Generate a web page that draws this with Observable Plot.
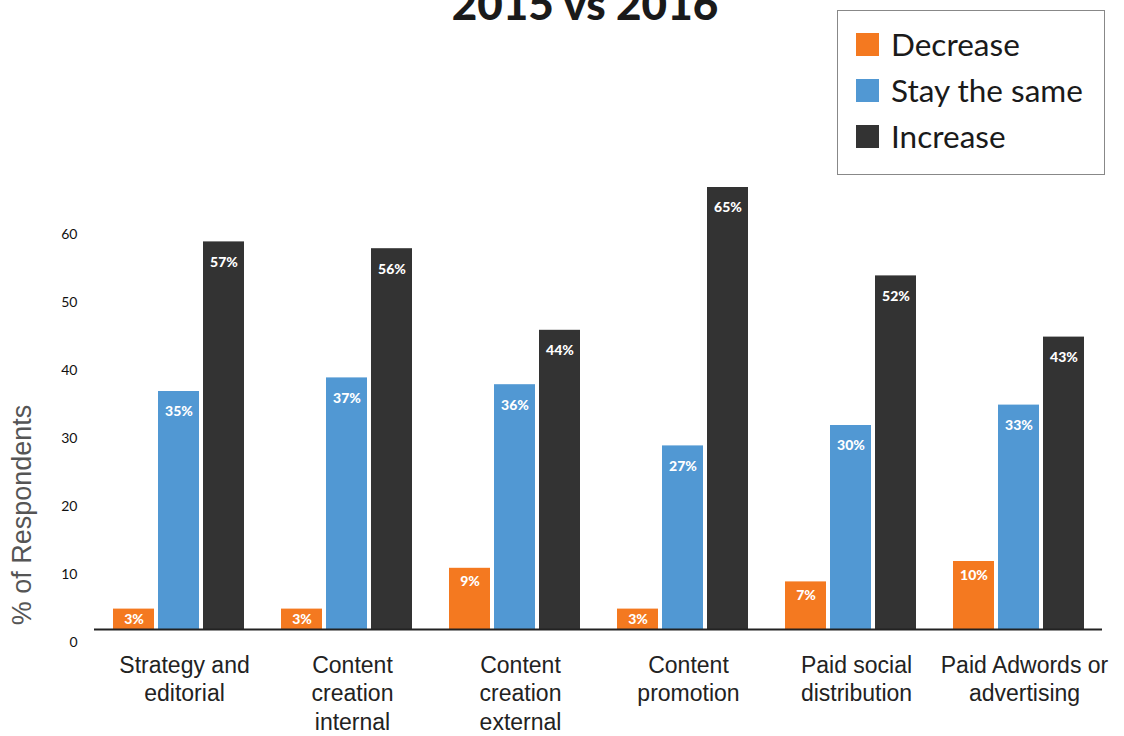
<!DOCTYPE html>
<html>
<head>
<meta charset="utf-8">
<script src="https://cdn.jsdelivr.net/npm/d3@7"></script>
<script src="https://cdn.jsdelivr.net/npm/@observablehq/plot@0.6"></script>
<style>
  html, body { margin: 0; padding: 0; background: #fff; }
  #wrap { position: relative; width: 1124px; height: 736px; overflow: hidden; }
  #title { position: absolute; left: 0; width: 1170px; top: -19px; text-align: center;
           font-family: Lato, sans-serif; font-weight: 900; font-size: 44px; line-height: 1; color: #1a1a1a; }
  #legend { position: absolute; left: 837px; top: 10px; width: 268px; height: 165px;
            border: 1px solid #888; box-sizing: border-box; font-family: Lato, sans-serif; }
  .item { position: absolute; left: 18px; height: 46px; display: flex; align-items: center; }
  .sw { width: 23px; height: 23px; margin-right: 12px; }
  .lab { font-size: 31.5px; color: #1a1a1a; }
  #ytitle { position: absolute; left: 22px; top: 515px; transform: translate(-50%, -50%) rotate(-90deg);
            font-family: "Liberation Sans", Arial, sans-serif; font-size: 27px; color: #555; white-space: nowrap; }
  svg { position: absolute; left: 0; top: 0; }
</style>
</head>
<body>
<div id="wrap">
  <div id="chart"></div>
  <div id="title">2015 vs 2016</div>
  <div id="ytitle">% of Respondents</div>
  <div id="legend"></div>
</div>
<script>
const categories = ["Strategy and editorial", "Content creation internal", "Content creation external", "Content promotion", "Paid social distribution", "Paid Adwords or advertising"];
const categoryLabels = ["Strategy and\neditorial", "Content\ncreation\ninternal", "Content\ncreation\nexternal", "Content\npromotion", "Paid social\ndistribution", "Paid Adwords or\nadvertising"];
const series = ["Decrease", "Stay the same", "Increase"];
const decrease = [3, 3, 9, 3, 7, 10];
const stayTheSame = [35, 37, 36, 27, 30, 33];
const increase = [57, 56, 44, 65, 52, 43];
const yTicks = [0, 10, 20, 30, 40, 50, 60];
const colors = ["#f47920", "#5198d3", "#333333"];

const seriesValues = [decrease, stayTheSame, increase];
const rows = categories.flatMap((c, i) => series.map((s, j) => ({category: c, series: s, value: seriesValues[j][i]})));
const labelOf = new Map(categories.map((c, i) => [c, categoryLabels[i]]));

const chart = Plot.plot({
  width: 1124,
  height: 736,
  marginLeft: 94,
  marginRight: 22,
  marginTop: 0,
  marginBottom: 107,
  style: {background: "transparent", fontFamily: "Lato, sans-serif"},
  fx: {domain: categories, padding: 0, axis: null},
  x: {domain: series, paddingInner: 0.089, paddingOuter: 0.411, axis: null},
  y: {domain: [0, 60], range: [629, 221], axis: null},
  color: {domain: series, range: colors},
  marks: [
    Plot.barY(rows, {fx: "category", x: "series", y: "value", fill: "series"}),
    Plot.ruleY([0], {stroke: "#222", strokeWidth: 2}),
    Plot.text(rows, {
      fx: "category", x: "series",
      y: d => d.value - (d.value >= 15 ? 3 : d.value <= 3 ? 1.5 : 2),
      text: d => d.value + "%",
      fill: "#fff", fontWeight: 900, fontSize: 14, fontFamily: "Lato, sans-serif"
    }),
    Plot.axisY(yTicks, {
      tickSize: 0, tickPadding: 17, dy: 13, fontSize: 14, fill: "#111",
      fontFamily: "Lato, sans-serif", label: null
    }),
    Plot.axisFx({
      anchor: "bottom", tickSize: 0, tickPadding: 24, dx: 6,
      tickFormat: c => labelOf.get(c), fontSize: 23, lineHeight: 1.22,
      fontFamily: "'Liberation Sans', Arial, sans-serif", fill: "#222", label: null
    })
  ]
});
document.getElementById("chart").appendChild(chart);

const legend = document.getElementById("legend");
series.forEach((s, i) => {
  const item = document.createElement("div");
  item.className = "item";
  item.style.top = (10 + i * 46) + "px";
  item.innerHTML = `<div class="sw" style="background:${colors[i]}"></div><div class="lab">${s}</div>`;
  legend.appendChild(item);
});
</script>
</body>
</html>
